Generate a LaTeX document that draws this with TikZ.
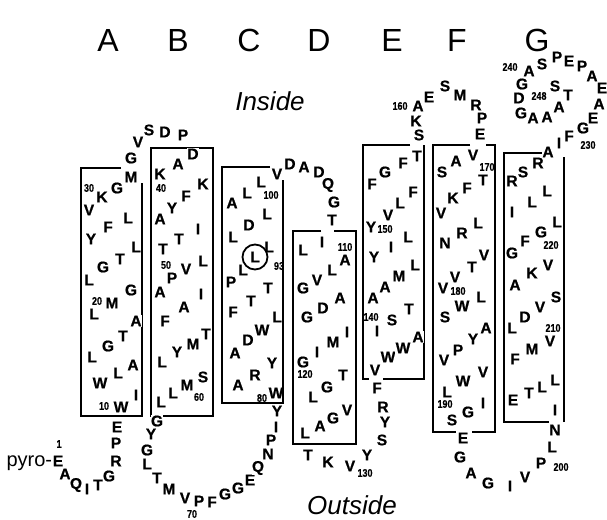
\documentclass[tikz,border=0pt]{standalone}
\usepackage{fontspec}
\setmainfont{Liberation Sans}
\newfontfamily\aafam{Liberation Sans}[UprightFont={* Bold}, FakeBold=0.7]
\newfontfamily\numfam{Liberation Sans}[UprightFont={* Bold}, FakeStretch=0.82, FakeBold=0.4]
\begin{document}
\begin{tikzpicture}[x=1pt,y=-1pt,
 aa/.style={font=\aafam\fontsize{15.5}{15.5}\selectfont, inner sep=0.3pt, fill=white},
 num/.style={font=\numfam\fontsize{11}{11}\selectfont, inner sep=0.2pt},
 hx/.style={draw, line width=1.3pt},
 hdr/.style={font=\fontsize{32}{32}\selectfont, inner sep=0pt},
 side/.style={font=\itshape\fontsize{26}{26}\selectfont, inner sep=0pt}]
\useasboundingbox (0,0) rectangle (607,519);
% helix boxes (with the gaps where the chain crosses)
\draw[hx] (121,168) -| (81,416) -| (142,183);
\draw[hx] (154,416) -| (151,148) -| (213,416) -- (161,416);
\draw[hx] (270,167) -| (222,403) -| (283,180);
\draw[hx] (321,231) -| (293,444) -| (356,231) -- (334,231);
\draw[hx] (410,145) -| (363,379) -- (369,379);
\draw[hx] (383,379) -| (424,145);
\draw[hx] (470,145) -| (433,432) -- (456,432);
\draw[hx] (472,432) -| (495,145) -- (486,145);
\draw[hx] (542,153) -| (504,422) -- (549,422);
\draw[hx] (564,422) -- (564,157);
% headers
\node[hdr] (hA) at (108,40) {A};
\node[hdr] (hB) at (178,40) {B};
\node[hdr] (hC) at (249,40) {C};
\node[hdr] (hD) at (319,40) {D};
\node[hdr] (hE) at (392,40) {E};
\node[hdr] (hF) at (457,40) {F};
\node[hdr] (hG) at (537,40) {G};
\node[side] (inside) at (270,101) {Inside};
\node[side] (outside) at (352,505) {Outside};
% N-terminus
\node[aa] (r1) at (58,461) {E};
\node[font=\fontsize{20}{20}\selectfont, inner sep=0pt, anchor=base east] (pyro) at (r1.base west) {pyro-};
\node[num] (n1) at (59,444) {1};
\node[aa] (r2) at (65,474) {A};
\node[aa] (r3) at (76,485) {Q};
\node[aa] (r4) at (87,489) {I};
\node[aa] (r5) at (98,485) {T};
\node[aa] (r6) at (109,476) {G};
\node[aa] (r7) at (116,461) {R};
\node[aa] (r8) at (116,443) {P};
\node[aa] (r9) at (117,427) {E};
% helix A
\node[aa] (r10) at (121,407) {W};
\node[num] (n10) at (104,406) {10};
\node[aa] (r11) at (136,395) {I};
\node[aa] (r12) at (100,383) {W};
\node[aa] (r13) at (118,373) {L};
\node[aa] (r14) at (133,365) {A};
\node[aa] (r15) at (92,357) {L};
\node[aa] (r16) at (108,346) {G};
\node[aa] (r17) at (123,336) {T};
\node[aa] (r18) at (136,321) {A};
\node[aa] (r19) at (94,314) {L};
\node[aa] (r20) at (112,303) {M};
\node[num] (n20) at (97,301) {20};
\node[aa] (r21) at (131,290) {G};
\node[aa] (r22) at (89,280) {L};
\node[aa] (r23) at (103,267) {G};
\node[aa] (r24) at (120,259) {T};
\node[aa] (r25) at (136,247) {L};
\node[aa] (r26) at (91,239) {Y};
\node[aa] (r27) at (108,227) {F};
\node[aa] (r28) at (128,218) {L};
\node[aa] (r29) at (89,210) {V};
\node[aa] (r30) at (102,197) {K};
\node[num] (n30) at (89,188) {30};
\node[aa] (r31) at (117,188) {G};
\node[aa] (r32) at (131,177) {M};
\node[aa] (r33) at (131,158) {G};
\node[aa] (r34) at (138,142) {V};
\node[aa] (r35) at (149,130) {S};
\node[aa] (r36) at (165,132) {D};
\node[aa] (r37) at (183,135) {P};
% helix B
\node[aa] (r38) at (193,154) {D};
\node[aa] (r39) at (178,164) {A};
\node[aa] (r40) at (160,174) {K};
\node[num] (n40) at (161,188) {40};
\node[aa] (r41) at (203,184) {K};
\node[aa] (r42) at (186,196) {F};
\node[aa] (r43) at (172,208) {Y};
\node[aa] (r44) at (160,219) {A};
\node[aa] (r45) at (198,229) {I};
\node[aa] (r46) at (179,239) {T};
\node[aa] (r47) at (163,249) {T};
\node[aa] (r48) at (203,261) {L};
\node[aa] (r49) at (186,269) {V};
\node[aa] (r50) at (172,278) {P};
\node[num] (n50) at (166,265) {50};
\node[aa] (r51) at (160,292) {A};
\node[aa] (r52) at (201,294) {I};
\node[aa] (r53) at (184,307) {A};
\node[aa] (r54) at (165,321) {F};
\node[aa] (r55) at (206,334) {T};
\node[aa] (r56) at (193,344) {M};
\node[aa] (r57) at (177,352) {Y};
\node[aa] (r58) at (162,362) {L};
\node[aa] (r59) at (203,377) {S};
\node[aa] (r60) at (187,385) {M};
\node[num] (n60) at (199,397) {60};
\node[aa] (r61) at (173,393) {L};
\node[aa] (r62) at (161,402) {L};
% loop BC
\node[aa] (r63) at (157,421) {G};
\node[aa] (r64) at (151,434) {Y};
\node[aa] (r65) at (147,450) {G};
\node[aa] (r66) at (147,464) {L};
\node[aa] (r67) at (157,478) {T};
\node[aa] (r68) at (169,489) {M};
\node[aa] (r69) at (185,498) {V};
\node[aa] (r70) at (199,501) {P};
\node[num] (n70) at (192,514) {70};
\node[aa] (r71) at (212,502) {F};
\node[aa] (r72) at (225,494) {G};
\node[aa] (r73) at (238,488) {G};
\node[aa] (r74) at (250,480) {E};
\node[aa] (r75) at (258,468) {Q};
\node[aa] (r76) at (268,454) {N};
\node[aa] (r77) at (271,440) {P};
\node[aa] (r78) at (276,427) {I};
\node[aa] (r79) at (277,411) {Y};
% helix C
\node[aa, fill=none] (r80) at (276,393) {W};
\node[num] (n80) at (262,398) {80};
\node[aa] (r81) at (238,385) {A};
\node[aa] (r82) at (255,375) {R};
\node[aa] (r83) at (272,363) {Y};
\node[aa] (r84) at (235,353) {A};
\node[aa] (r85) at (248,340) {D};
\node[aa] (r86) at (262,330) {W};
\node[aa] (r87) at (277,317) {L};
\node[aa] (r88) at (233,312) {F};
\node[aa] (r89) at (251,301) {T};
\node[aa] (r90) at (268,288) {T};
\node[aa] (r91) at (231,282) {P};
\node[aa] (r92) at (243,270) {L};
\node[aa] (r94) at (269,247) {L};
\node[aa, fill=none, draw, circle, line width=1.8pt, minimum size=25pt] (r93) at (255,257) {L};
\node[num] (n93) at (279,266) {93};
\node[aa] (r95) at (233,237) {L};
\node[aa] (r96) at (249,225) {D};
\node[aa] (r97) at (267,214) {L};
\node[aa] (r98) at (232,203) {A};
\node[aa] (r99) at (247,193) {L};
\node[aa] (r100) at (261,182) {L};
\node[num] (n100) at (271,195) {100};
\node[aa] (r101) at (277,174) {V};
% loop CD
\node[aa] (r102) at (290,164) {D};
\node[aa] (r103) at (304,167) {A};
\node[aa] (r104) at (319,172) {D};
\node[aa] (r105) at (328,185) {Q};
\node[aa] (r106) at (334,202) {G};
\node[aa] (r107) at (332,220) {T};
% helix D
\node[aa] (r108) at (322,242) {I};
\node[aa] (r109) at (303,250) {L};
\node[aa] (r110) at (345,260) {A};
\node[num] (n110) at (345,247) {110};
\node[aa] (r111) at (332,270) {L};
\node[aa] (r112) at (317,280) {V};
\node[aa] (r113) at (303,288) {G};
\node[aa] (r114) at (340,298) {A};
\node[aa] (r115) at (323,308) {D};
\node[aa] (r116) at (307,317) {G};
\node[aa] (r117) at (347,332) {I};
\node[aa] (r118) at (333,342) {M};
\node[aa] (r119) at (317,352) {I};
\node[aa] (r120) at (303,362) {G};
\node[num] (n120) at (305,374) {120};
\node[aa] (r121) at (343,375) {T};
\node[aa] (r122) at (327,387) {G};
\node[aa] (r123) at (313,397) {L};
\node[aa] (r124) at (347,410) {V};
\node[aa] (r125) at (333,418) {G};
\node[aa] (r126) at (320,426) {A};
\node[aa] (r127) at (305,433) {L};
% loop DE
\node[aa] (r128) at (308,455) {T};
\node[aa] (r129) at (328,462) {K};
\node[aa] (r130) at (350,466) {V};
\node[num] (n130) at (365,473) {130};
\node[aa] (r131) at (367,455) {Y};
\node[aa] (r132) at (382,440) {S};
\node[aa] (r133) at (385,422) {Y};
\node[aa] (r134) at (383,407) {R};
\node[aa] (r135) at (377,388) {F};
% helix E
\node[aa] (r136) at (375,370) {V};
\node[aa] (r137) at (388,357) {W};
\node[aa] (r138) at (403,348) {W};
\node[aa] (r139) at (418,337) {A};
\node[aa] (r140) at (377,331) {I};
\node[num] (n140) at (371,317) {140};
\node[aa] (r141) at (392,320) {S};
\node[aa] (r142) at (409,309) {T};
\node[aa] (r143) at (373,298) {A};
\node[aa] (r144) at (385,287) {A};
\node[aa] (r145) at (399,276) {M};
\node[aa] (r146) at (415,265) {L};
\node[aa] (r147) at (374,257) {Y};
\node[aa] (r148) at (391,247) {I};
\node[aa] (r149) at (408,237) {L};
\node[aa] (r150) at (371,227) {Y};
\node[num] (n150) at (385,229) {150};
\node[aa] (r151) at (388,215) {V};
\node[aa] (r152) at (400,203) {L};
\node[aa] (r153) at (413,192) {F};
\node[aa] (r154) at (372,184) {F};
\node[aa] (r155) at (385,172) {G};
\node[aa] (r156) at (403,163) {F};
\node[aa] (r157) at (417,156) {T};
% loop EF
\node[aa] (r158) at (419,135) {S};
\node[aa] (r159) at (416,121) {K};
\node[aa] (r160) at (418,106) {A};
\node[num] (n160) at (400,106) {160};
\node[aa] (r161) at (429,97) {E};
\node[aa] (r162) at (445,86) {S};
\node[aa] (r163) at (460,95) {M};
\node[aa] (r164) at (476,105) {R};
\node[aa] (r165) at (482,118) {P};
\node[aa] (r166) at (480,134) {E};
% helix F
\node[aa] (r167) at (473,155) {V};
\node[aa] (r168) at (456,161) {A};
\node[aa] (r169) at (442,172) {S};
\node[aa] (r170) at (483,180) {T};
\node[num] (n170) at (487,167) {170};
\node[aa] (r171) at (467,188) {F};
\node[aa] (r172) at (453,198) {K};
\node[aa] (r173) at (441,213) {V};
\node[aa] (r174) at (478,223) {L};
\node[aa] (r175) at (462,233) {R};
\node[aa] (r176) at (445,243) {N};
\node[aa] (r177) at (484,255) {V};
\node[aa] (r178) at (472,267) {T};
\node[aa] (r179) at (455,277) {V};
\node[aa] (r180) at (443,288) {V};
\node[num] (n180) at (458,291) {180};
\node[aa] (r181) at (481,297) {L};
\node[aa] (r182) at (462,306) {W};
\node[aa] (r183) at (445,317) {S};
\node[aa] (r184) at (486,328) {A};
\node[aa] (r185) at (473,339) {Y};
\node[aa] (r186) at (458,350) {P};
\node[aa] (r187) at (444,360) {V};
\node[aa] (r188) at (483,372) {V};
\node[aa] (r189) at (463,381) {W};
\node[aa] (r190) at (447,392) {L};
\node[num] (n190) at (445,404) {190};
\node[aa] (r191) at (483,403) {I};
\node[aa] (r192) at (468,412) {G};
\node[aa] (r193) at (452,420) {S};
% loop FG
\node[aa] (r194) at (463,438) {E};
\node[aa] (r195) at (460,457) {G};
\node[aa] (r196) at (471,473) {A};
\node[aa] (r197) at (488,483) {G};
\node[aa] (r198) at (510,486) {I};
\node[aa] (r199) at (525,477) {V};
\node[aa] (r200) at (541,463) {P};
\node[num] (n200) at (561,467) {200};
\node[aa] (r201) at (552,447) {L};
\node[aa] (r202) at (555,430) {N};
% helix G
\node[aa] (r203) at (555,410) {I};
\node[aa] (r204) at (513,400) {E};
\node[aa] (r205) at (529,393) {T};
\node[aa] (r206) at (542,387) {L};
\node[aa] (r207) at (555,380) {L};
\node[aa] (r208) at (515,359) {F};
\node[aa] (r209) at (532,349) {M};
\node[aa] (r210) at (550,341) {V};
\node[num] (n210) at (553,328) {210};
\node[aa] (r211) at (512,328) {L};
\node[aa] (r212) at (525,317) {D};
\node[aa] (r213) at (540,307) {V};
\node[aa] (r214) at (556,297) {S};
\node[aa] (r215) at (515,285) {A};
\node[aa] (r216) at (532,273) {K};
\node[aa] (r217) at (548,265) {V};
\node[aa] (r218) at (512,253) {G};
\node[aa] (r219) at (525,241) {F};
\node[aa] (r220) at (541,232) {G};
\node[num] (n220) at (551,245) {220};
\node[aa] (r221) at (557,222) {L};
\node[aa] (r222) at (512,212) {I};
\node[aa] (r223) at (532,202) {L};
\node[aa] (r224) at (547,191) {L};
\node[aa] (r225) at (512,181) {R};
\node[aa] (r226) at (523,172) {S};
\node[aa] (r227) at (538,163) {R};
\node[aa] (r228) at (548,152) {A};
% C-terminus
\node[aa] (r229) at (559,143) {I};
\node[aa] (r230) at (569,136) {F};
\node[num] (n230) at (588,145) {230};
\node[aa] (r231) at (583,128) {G};
\node[aa] (r232) at (593,118) {E};
\node[aa] (r233) at (599,104) {A};
\node[aa] (r234) at (602,88) {E};
\node[aa] (r235) at (592,76) {A};
\node[aa] (r236) at (582,66) {P};
\node[aa] (r237) at (569,61) {E};
\node[aa] (r238) at (557,57) {P};
\node[aa] (r239) at (542,64) {S};
\node[aa] (r240) at (529,71) {A};
\node[num] (n240) at (510,67) {240};
\node[aa] (r241) at (522,84) {G};
\node[aa] (r242) at (519,98) {D};
\node[aa] (r243) at (521,113) {G};
\node[aa] (r244) at (533,118) {A};
\node[aa] (r245) at (547,117) {A};
\node[aa] (r246) at (559,107) {A};
\node[aa] (r247) at (568,95) {T};
\node[aa] (r248) at (555,86) {S};
\node[num] (n248) at (539,96) {248};
\end{tikzpicture}
\end{document}
